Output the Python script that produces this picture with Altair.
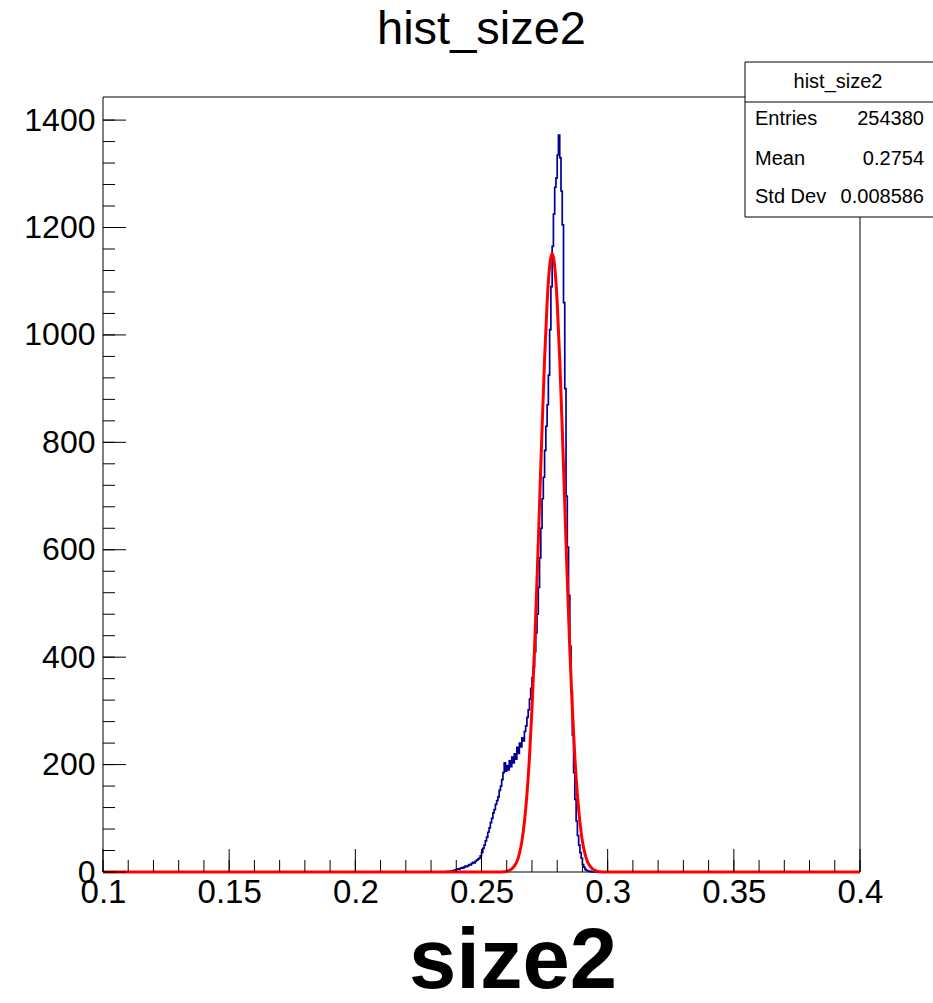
import altair as alt
import numpy as np
import pandas as pd

# ---------------- data ----------------
# blue histogram (counts per bin, bins of 0.0005 starting at 0.2365)
bin_start = 0.2365
bin_width = 0.0005
hist_counts = [
    1, 1, 1, 2, 2, 3, 4, 5, 6, 5, 7, 8, 7, 9, 11, 10, 12, 14, 13, 16,
    18, 17, 20, 22, 24, 26, 30, 36, 44, 50, 58, 65, 74, 82, 92, 100, 110, 116, 126, 133,
    140, 152, 160, 172, 185, 203, 188, 198, 190, 207, 196, 214, 203, 220, 210, 232, 221, 240, 233, 250,
    244, 262, 272, 288, 302, 322, 342, 362, 382, 410, 445, 480, 530, 585, 640, 695, 735, 785, 830, 870,
    925, 1010, 1090, 1165, 1225, 1275, 1292, 1335, 1372, 1330, 1268, 1205, 1060, 900, 700, 605, 515, 420, 335, 255,
    185, 135, 95, 68, 50, 36, 26, 14, 9, 5, 3, 2, 1, 1,
]

# red fit curve
fit_x = [0.1, 0.258, 0.259, 0.260, 0.261, 0.262, 0.263, 0.264, 0.265, 0.266, 0.267, 0.268, 0.269,
         0.270, 0.271, 0.272, 0.273, 0.274, 0.275, 0.276, 0.277, 0.278, 0.279, 0.280, 0.281,
         0.282, 0.283, 0.284, 0.285, 0.286, 0.287, 0.288, 0.289, 0.290, 0.291, 0.292, 0.293,
         0.294, 0.295, 0.296, 0.297, 0.298, 0.4]
fit_y = [0, 0, 0.5, 1, 3, 6, 11, 19, 34, 57, 93, 144, 213,
         304, 415, 544, 684, 826, 955, 1060, 1128, 1152, 1128, 1060, 955,
         826, 684, 544, 415, 304, 213, 144, 93, 57, 34, 19, 11,
         6, 3, 1, 0.5, 0, 0]

x_tick_labels = [0.1, 0.15, 0.2, 0.25, 0.3, 0.35, 0.4]
y_tick_labels = [0, 200, 400, 600, 800, 1000, 1200, 1400]
x_minor = [round(0.1 + 0.01 * i, 2) for i in range(31)]
y_minor = [40 * i for i in range(36)]

stats_title = "hist_size2"
stats_names = ["Entries", "Mean", "Std Dev"]
stats_values = ["254380", "0.2754", "0.008586"]

# ---------------- layout ----------------
W, H = 757, 775
FONT = "Liberation Sans"
x_scale = alt.Scale(domain=[0.1, 0.4], nice=False, zero=False)
y_scale = alt.Scale(domain=[0, 1443], nice=False, zero=False)
x_axis = alt.Axis(values=x_tick_labels, format="~g", title=None, ticks=False, domain=False,
                  grid=False, labelFont=FONT, labelFontSize=33, labelColor="black",
                  labelPadding=4, labelFlush=False, labelOverlap=False)
y_axis = alt.Axis(values=y_tick_labels, format="d", title=None, ticks=False, domain=False,
                  grid=False, labelFont=FONT, labelFontSize=32, labelColor="black",
                  labelPadding=8, labelFlush=False, labelOverlap=False)


def X():
    return alt.X("x:Q", scale=x_scale, axis=x_axis)


def Y():
    return alt.Y("y:Q", scale=y_scale, axis=y_axis)


edges = bin_start + bin_width * np.arange(len(hist_counts))
hx = [0.1] + list(edges) + [edges[-1] + bin_width, 0.4]
hy = [0] + list(hist_counts) + [0, 0]
hist_df = pd.DataFrame({"x": hx, "y": hy, "o": range(len(hx))})
fit_df = pd.DataFrame({"x": fit_x, "y": fit_y, "o": range(len(fit_x))})

one = pd.DataFrame({"a": [0]})

frame = alt.Chart(one).mark_rect(fillOpacity=0, stroke="black", strokeWidth=1).encode(
    x=alt.value(0), x2=alt.value(W), y=alt.value(0), y2=alt.value(H)
)

hist = alt.Chart(hist_df).mark_line(interpolate="step-after", color="#000099", strokeWidth=1.7).encode(
    x=X(), y=Y(), order="o:Q",
)

fit = alt.Chart(fit_df).mark_line(interpolate="monotone", color="#ff0000", strokeWidth=3).encode(
    x=X(), y=Y(), order="o:Q",
)

xmaj = alt.Chart(pd.DataFrame({"x": x_tick_labels})).mark_rule(color="black", strokeWidth=1).encode(
    x=X(), y=alt.value(H), y2=alt.value(H - 23)
)
xmin = alt.Chart(pd.DataFrame({"x": x_minor})).mark_rule(color="black", strokeWidth=1).encode(
    x=X(), y=alt.value(H), y2=alt.value(H - 12)
)
ymaj = alt.Chart(pd.DataFrame({"y": y_tick_labels})).mark_rule(color="black", strokeWidth=1).encode(
    y=Y(), x=alt.value(0), x2=alt.value(23)
)
ymin = alt.Chart(pd.DataFrame({"y": y_minor})).mark_rule(color="black", strokeWidth=1).encode(
    y=Y(), x=alt.value(0), x2=alt.value(12)
)

# stats box
bx0, bx1, by0, by1, bsep = 642, 832, -35, 120, 5
box = alt.Chart(one).mark_rect(fill="white", stroke="black", strokeWidth=1).encode(
    x=alt.value(bx0), x2=alt.value(bx1), y=alt.value(by0), y2=alt.value(by1)
)
sep = alt.Chart(one).mark_rule(color="black", strokeWidth=1).encode(
    x=alt.value(bx0), x2=alt.value(bx1), y=alt.value(bsep)
)

texts = []
texts.append(alt.Chart(one).mark_text(text=stats_title, font=FONT, fontSize=20, align="center",
                                      baseline="middle", color="black").encode(
    x=alt.value(735), y=alt.value(-15)))
row_y = [22, 62, 100]
for name, val, ry in zip(stats_names, stats_values, row_y):
    texts.append(alt.Chart(one).mark_text(text=name, font=FONT, fontSize=20, align="left",
                                          baseline="middle", color="black").encode(
        x=alt.value(652), y=alt.value(ry)))
    texts.append(alt.Chart(one).mark_text(text=val, font=FONT, fontSize=20, align="right",
                                          baseline="middle", color="black").encode(
        x=alt.value(821), y=alt.value(ry)))

main_title = alt.Chart(one).mark_text(text="hist_size2", font=FONT, fontSize=47, align="center",
                                      baseline="alphabetic", color="black").encode(
    x=alt.value(W / 2), y=alt.value(-53))
x_title = alt.Chart(one).mark_text(text="size2", font=FONT, fontSize=85, fontWeight="bold",
                                   align="center", baseline="alphabetic", color="black").encode(
    x=alt.value(410), y=alt.value(H + 116))

chart = alt.layer(
    frame, hist, fit, xmaj, xmin, ymaj, ymin, box, sep, *texts, main_title, x_title
).properties(
    width=W, height=H,
    autosize=alt.AutoSizeParams(type="none"),
    padding={"left": 103, "top": 97, "right": 73, "bottom": 131},
    background="white",
).configure_view(stroke=None)

chart.save("out.html", embed_options={"renderer": "svg", "actions": False})
